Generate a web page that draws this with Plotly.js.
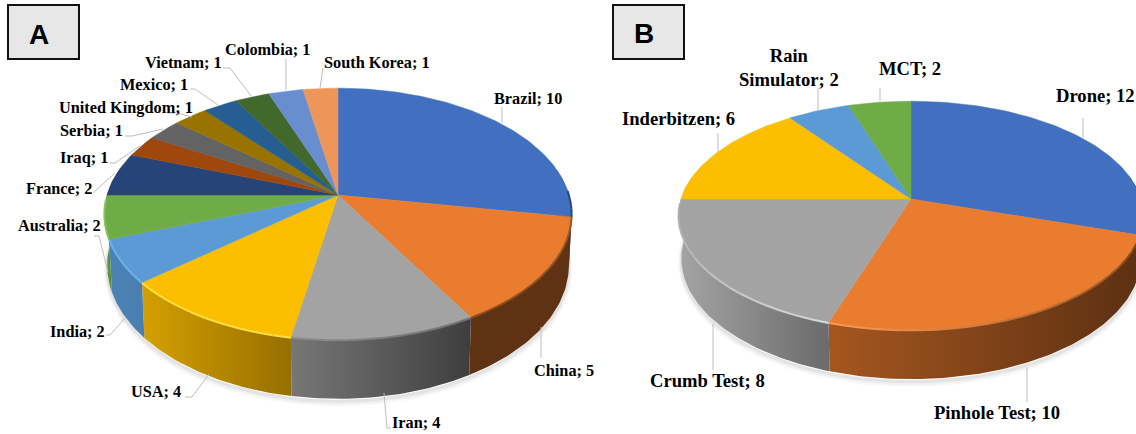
<!DOCTYPE html>
<html><head><meta charset="utf-8">
<script src="https://cdn.plot.ly/plotly-3.0.1.min.js"></script>
<style>html,body{margin:0;padding:0;background:#fff}#c{width:1136px;height:434px}</style>
</head><body><div id="c"></div>
<script>
// ---- data ----
const categoriesA = ["Brazil","China","Iran","USA","India","Australia","France","Iraq","Serbia","United Kingdom","Mexico","Vietnam","Colombia","South Korea"];
const valuesA = [10,5,4,4,2,2,2,1,1,1,1,1,1,1];
const categoriesB = ["Drone","Pinhole Test","Crumb Test","Inderbitzen","Rain<br>Simulator","MCT"];
const valuesB = [12,10,8,6,2,2];

// ---- styles ----
const topColorsA = ["#4170c0","#ea7c30","#a3a3a3","#fcbe00","#5b9ad5","#6fac47","#264478","#9e480e","#636363","#997300","#255e91","#43682b","#698ed0","#ee9659"];
const topColorsB = ["#4170c0","#ea7c30","#a3a3a3","#fcbe00","#5b9ad5","#6fac47"];
const wallA = [["#27447a","#27447a"],["#5f3213","#5f3213"],["#777777","#3e3e3e"],["#d4a000","#976f00"],["#4c82b5","#4a7eb0"],["#5c8f3a","#5c8f3a"],["#264478","#264478"]];
const wallB = [["#5f3213","#5f3213"],["#a5561f","#5c3012"],["#a4a4a4","#6b6b6b"],["#c99a00","#c99a00"],["#4a7eb0","#4a7eb0"],["#5c8f3a","#5c8f3a"]];
const rimA = [["#2a4880","#2a4880"],["#9a5626","#8a4c1f"],["#6e6e6e","#8c8c8c"],["#ffdc40","#ffdc40"],["#6fb0ea","#6fb0ea"],["#84c455","#84c455"],null];
const rimB = [["#2a4880","#2a4880"],["#7c431b","#ff9a55"],["#d8d8d8","#a9a9a9"],null,null,null];
const labelSizeA = 16.3, labelSizeB = 18.6;

// ---- pie geometry ----
const geomA = {cx:338, cy:195, A:231, B:123, k:0.151, h:50};
const geomB = {cx:911, cy:199, A:230, B:112, k:0.145, h:42};
// ---- labels: [centre x, centre y]; leaders: polyline points ----
const labelPosA = [[528,98],[564,370],[416,422],[156,391],[77,331],[59,225],[59,188],[84,157],[91,130],[126,107],[154,84],[183,62],[267,49],[377,62]];
const leadersA = [[[502,107],[502,123]],[[541,327],[541,358]],[[384,393],[387,428],[391,428]],[[209,374],[192,397],[185,397]],[[126,317],[110,335],[106,335]],[[94,236],[99,236],[108,272]],[[93,193],[115,173]],[[110,163],[115,163],[140,146]],[[125,136],[132,136],[163,129]],[[168,113],[177,113],[192,117]],[[190,89],[195,89],[218,105]],[[223,68],[230,68],[252,97]],[[286,59],[286,90]],[[323,68],[320,88]]];
const labelPosB = [[1095,95],[997,412],[707,380],[678,118],[789,67],[910,68]];
const leadersB = [[[1083,118],[1083,138]],[[1027,367],[1027,402]],[[713,324],[713,370]],[[718,133],[718,152]],[[818,88],[818,110]],[[880,88],[880,101]]];
const panelBoxes = [{t:"A",x0:8,x1:79,y0:5,y1:59,tx:39,ty:34},{t:"B",x0:613,x1:684,y0:5,y1:59,tx:644,ty:33}];

const traces = [], annotations = [], shapes = [];
const rad = d => d*Math.PI/180;
function project(g, deg, depth){
  const X=Math.sin(rad(deg)), Y=-Math.cos(rad(deg)), w=1-g.k*Y;
  return [g.cx+g.A*X/w*(1-0.012*depth), g.cy+(g.B*Y+depth*g.h)/w, Y];
}
function arc(g,a0,a1,depth,dy){
  const xs=[],ys=[],n=Math.max(2,Math.ceil(Math.abs(a1-a0)));
  for(let i=0;i<=n;i++){const p=project(g,a0+(a1-a0)*i/n,depth);xs.push(p[0]);ys.push(p[1]+(dy||0));}
  return [xs,ys];
}
function mix(c1,c2,t){
  const p=c=>[1,3,5].map(i=>parseInt(c.substr(i,2),16));
  const a=p(c1),b=p(c2);
  return "rgb("+a.map((v,i)=>Math.round(v+(b[i]-v)*t)).join(",")+")";
}
function line(xs,ys,color,width){
  traces.push({type:"scatter",mode:"lines",x:xs,y:ys,line:{color:color,width:width,shape:"linear"},hoverinfo:"skip",showlegend:false});
}
function drawPie(g,values,tops,walls,rims){
  const total=values.reduce((a,b)=>a+b,0);
  const edges=[0];values.forEach(v=>edges.push(edges[edges.length-1]+v/total*360));
  [[7,"rgba(0,0,0,0.025)"],[5,"rgba(0,0,0,0.035)"],[3,"rgba(0,0,0,0.05)"]].forEach(s=>{
    const b=arc(g,80,285,1,s[0]/2+1);line(b[0],b[1],s[1],s[0]);
  });
  values.forEach((v,i)=>{
    const a0=Math.max(edges[i],78),a1=Math.min(edges[i+1],282);
    if(a1<=a0||!walls[i])return;
    const t=arc(g,a0,a1,0),b=arc(g,a1,a0,1);
    const xs=t[0].concat(b[0]),ys=t[1].concat(b[1]);xs.push(xs[0]);ys.push(ys[0]);
    const sx=Math.min(...xs),ex=Math.max(...xs);
    traces.push({type:"scatter",mode:"lines",x:xs,y:ys,fill:"toself",line:{width:0,color:walls[i][0]},
      fillgradient:{type:"horizontal",start:sx,stop:ex,colorscale:[[0,walls[i][0]],[1,walls[i][1]]]},
      hoverinfo:"skip",showlegend:false});
  });
  values.forEach((v,i)=>{
    const e=arc(g,edges[i],edges[i+1],0);
    const xs=[g.cx].concat(e[0],[g.cx]),ys=[g.cy].concat(e[1],[g.cy]);
    traces.push({type:"scatter",mode:"lines",x:xs,y:ys,fill:"toself",fillcolor:tops[i],line:{width:0.5,color:tops[i]},hoverinfo:"skip",showlegend:false});
  });
  values.forEach((v,i)=>{
    if(!rims[i])return;
    const a0=Math.max(edges[i],88),a1=Math.min(edges[i+1],268);
    if(a1<=a0)return;
    const n=Math.max(1,Math.ceil((a1-a0)/4));
    for(let s=0;s<n;s++){
      const u0=a0+(a1-a0)*s/n,u1=a0+(a1-a0)*(s+1)/n,r=arc(g,u0,u1,0,0.4);
      line(r[0],r[1],mix(rims[i][0],rims[i][1],(s+0.5)/n),2);
    }
  });
}
drawPie(geomA,valuesA,topColorsA,wallA.concat(Array(7).fill(null)),rimA.concat(Array(7).fill(null)));
drawPie(geomB,valuesB,topColorsB,wallB,rimB);

function addLabels(cats,vals,pos,leaders,size){
  cats.forEach((c,i)=>{
    annotations.push({xref:"x",yref:"y",x:pos[i][0],y:pos[i][1],text:c+"; "+vals[i],showarrow:false,xanchor:"center",yanchor:"middle",align:"center",
      font:{family:"Liberation Serif",size:size,color:"#000",weight:700}});
    line(leaders[i].map(p=>p[0]),leaders[i].map(p=>p[1]),"#bdbdbd",1);
  });
}
addLabels(categoriesA,valuesA,labelPosA,leadersA,labelSizeA);
addLabels(categoriesB,valuesB,labelPosB,leadersB,labelSizeB);

panelBoxes.forEach(b=>{
  shapes.push({type:"rect",xref:"x",yref:"y",x0:b.x0,x1:b.x1,y0:b.y0,y1:b.y1,fillcolor:"#e7e7e7",line:{color:"#111",width:2}});
  annotations.push({xref:"x",yref:"y",x:b.tx,y:b.ty,text:b.t,showarrow:false,xanchor:"center",yanchor:"middle",
    font:{family:"Liberation Sans",size:28,color:"#000",weight:700}});
});

Plotly.newPlot("c",traces,{
  width:1136,height:434,margin:{l:0,r:0,t:0,b:0},paper_bgcolor:"#fff",plot_bgcolor:"#fff",showlegend:false,
  xaxis:{range:[0,1136],visible:false,fixedrange:true},
  yaxis:{range:[434,0],visible:false,fixedrange:true},
  annotations:annotations,shapes:shapes
},{displayModeBar:false,staticPlot:true});
</script></body></html>
